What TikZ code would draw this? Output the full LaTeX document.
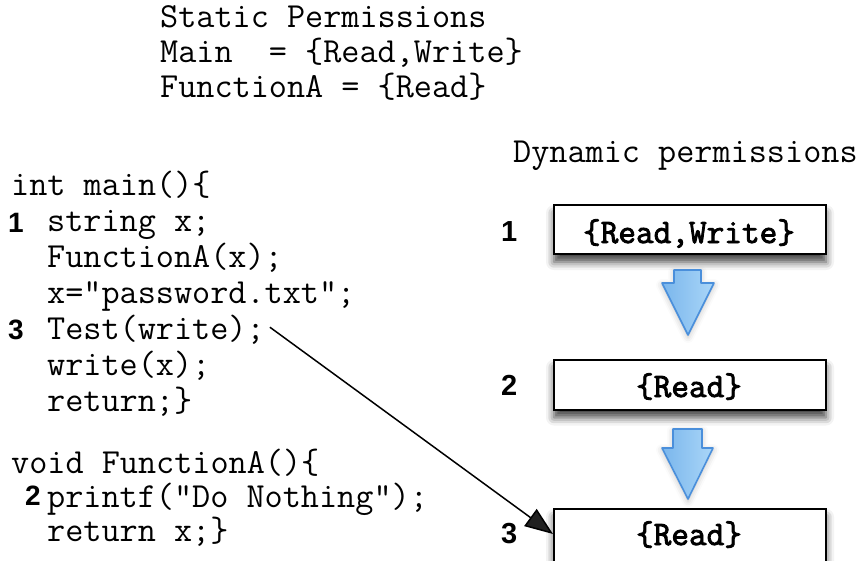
\documentclass[tikz,border=0pt]{standalone}
\usepackage{fontspec}
\newfontfamily\numfont{Liberation Sans}
\newfontfamily\permfont[FakeBold=2.5]{Latin Modern Mono}
\usetikzlibrary{arrows.meta,shadows.blur}

\definecolor{arrowEdge}{HTML}{4A8FDB}
\definecolor{arrowLeft}{HTML}{7AB6EC}
\definecolor{arrowRight}{HTML}{AAD6F8}

\tikzset{
  code/.style={anchor=base west, inner sep=0pt, font=\ttfamily\fontsize{35.2}{36}\selectfont},
  stepnum/.style={anchor=base west, inner sep=0pt, font=\numfont\bfseries\fontsize{28}{32}\selectfont},
  boxnum/.style={anchor=base west, inner sep=0pt, font=\numfont\bfseries\fontsize{29}{32}\selectfont},
  permbox/.style={draw=black, line width=2pt, fill=white, minimum width=272pt, inner sep=0pt,
    blur shadow={shadow xshift=0pt, shadow yshift=-8pt, shadow blur radius=8pt, shadow opacity=75}},
  permtext/.style={anchor=base, inner sep=0pt, font=\permfont\fontsize{34.3}{36}\selectfont},
  flowarrow/.style={draw=arrowEdge, line width=1.6pt, line join=round,
    left color=arrowLeft, right color=arrowRight,
    blur shadow={shadow xshift=0pt, shadow yshift=-2pt, shadow blur radius=6pt, shadow opacity=25}},
  link/.style={line width=1.5pt, -{Triangle[length=28pt, width=21pt]}}
}

\begin{document}
\begin{tikzpicture}[x=1pt, y=-1pt]
  \useasboundingbox (0,0) rectangle (865,560);

  % static permission table
  \node[code] (s1) at (160,27.5) {Static Permissions};
  \node[code] (s2) at (160,62.5) {Main\ \ = \{Read,Write\}};
  \node[code] (s3) at (160,97.5) {FunctionA = \{Read\}};

  % program listing
  \node[code] (m0) at (11,195) {int main()\{};
  \node[code] (m1) at (47,231) {string x;};
  \node[code] (m2) at (47,267) {FunctionA(x);};
  \node[code] (m3) at (47,303) {x="password.txt";};
  \node[code] (m4) at (47,339) {Test(write);};
  \node[code] (m5) at (47,375) {write(x);};
  \node[code] (m6) at (47,411) {return;\}};
  \node[code] (f0) at (11,473) {void FunctionA()\{};
  \node[code] (f1) at (47,507) {printf("Do Nothing");};
  \node[code] (f2) at (47,541) {return x;\}};

  % step markers beside the listing
  \node[stepnum] (n1) at (8,232) {1};
  \node[stepnum] (n3) at (8,339) {3};
  \node[stepnum] (n2) at (25,505) {2};

  % dynamic permission stack
  \node[code] (dyn) at (513,162) {Dynamic permissions};

  \node[permbox, minimum height=49pt] (b1) at (690,229.5) {};
  \node[permbox, minimum height=50pt] (b2) at (690,384.5) {};
  \node[permbox, minimum height=54pt] (b3) at (690,536) {};

  \node[permtext] (t1) at (689,243) {\{Read,Write\}};
  \node[permtext] (t2) at (689,397) {\{Read\}};
  \node[permtext] (t3) at (689,545) {\{Read\}};

  \node[boxnum] (r1) at (501,241) {1};
  \node[boxnum] (r2) at (501,395) {2};
  \node[boxnum] (r3) at (501,543) {3};

  % transitions between stack states
  \path[flowarrow] (674,270) -- (701,270) -- (701,283) -- (714,283) -- (688,335)
    -- (662,283) -- (674,283) -- cycle;
  \path[flowarrow] (673,429) -- (702,429) -- (702,448) -- (713,448) -- (688,499)
    -- (662,448) -- (673,448) -- cycle;

  % check at Test(write) looks at the current stack state
  \draw[link] ([xshift=5pt, yshift=2pt]m4.east) -- ([yshift=2pt]b3.west);
\end{tikzpicture}
\end{document}
